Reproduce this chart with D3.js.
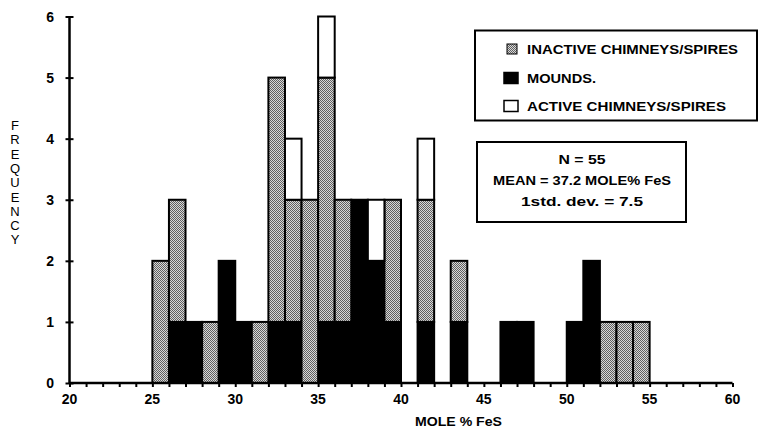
<!DOCTYPE html>
<html><head><meta charset="utf-8">
<script src="https://cdn.jsdelivr.net/npm/d3@7/dist/d3.min.js"></script>
<style>html,body{margin:0;padding:0;background:#fff;}svg{display:block;}</style>
</head><body>
<svg id="c" width="768" height="429"></svg>
<script>
// Data: histogram bins (lower edge, MOLE % FeS, 1-unit bins), stacked counts
const binStarts = [25,26,27,28,29,30,31,32,33,34,35,36,37,38,39,41,43,46,47,50,51,52,53,54];
const mounds    = [0, 1, 1, 0, 2, 1, 0, 1, 1, 0, 1, 1, 3, 2, 1, 1, 1, 1, 1, 1, 2, 0, 0, 0];
const inactive  = [2, 2, 0, 1, 0, 0, 1, 4, 2, 3, 4, 2, 0, 0, 2, 2, 1, 0, 0, 0, 0, 1, 1, 1];
const active    = [0, 0, 0, 0, 0, 0, 0, 0, 1, 0, 1, 0, 0, 1, 0, 1, 0, 0, 0, 0, 0, 0, 0, 0];
const seriesKeys = ["mounds","inactive","active"];
const legendLabels = ["INACTIVE CHIMNEYS/SPIRES","MOUNDS.","ACTIVE CHIMNEYS/SPIRES"];
const legendKeys = ["inactive","mounds","active"];
const xTickLabels = [20,25,30,35,40,45,50,55,60];
const yTickLabels = [0,1,2,3,4,5,6];
const statsLines = ["N = 55","MEAN = 37.2  MOLE% FeS","1std.  dev.  =  7.5"];
const yTitle = "FREQUENCY";
const xTitle = "MOLE % FeS";

const svg = d3.select("#c");
const font = "'Liberation Sans', Arial, Helvetica, sans-serif";

const x = d3.scaleLinear().domain([20,60]).range([69.5,732.5]);
const y = d3.scaleLinear().domain([0,6]).range([383,16.5]);

// pattern for stippled gray
const defs = svg.append("defs");
const pat = defs.append("pattern").attr("id","stip").attr("patternUnits","userSpaceOnUse")
  .attr("width",2).attr("height",2);
pat.append("rect").attr("width",2).attr("height",2).attr("fill","#d8d8d8");
pat.append("rect").attr("x",0).attr("y",0).attr("width",1).attr("height",1).attr("fill","#606060");
pat.append("rect").attr("x",1).attr("y",1).attr("width",1).attr("height",1).attr("fill","#606060");

const fills = {mounds:"#000", inactive:"url(#stip)", active:"#fff"};

const table = binStarts.map((b,i)=>({bin:b, mounds:mounds[i], inactive:inactive[i], active:active[i]}));
const stacked = d3.stack().keys(seriesKeys)(table);

const g = svg.append("g");
stacked.forEach(layer=>{
  g.selectAll(null).data(layer.filter(d=>d[1]>d[0])).enter().append("rect")
    .attr("x", d=>x(d.data.bin))
    .attr("width", d=>x(d.data.bin+1)-x(d.data.bin))
    .attr("y", d=>y(d[1]))
    .attr("height", d=>y(d[0])-y(d[1]))
    .attr("fill", fills[layer.key])
    .attr("stroke","#000").attr("stroke-width",2);
});

// axes
const xAxis = d3.axisBottom(x).tickValues(d3.range(20,61,1)).tickSize(4).tickFormat("");
const xa = svg.append("g").attr("transform",`translate(0,${y(0)})`).call(xAxis);
xa.select(".domain").attr("stroke","#000").attr("stroke-width",2.5).attr("d",`M${x(20)},0H${x(60)}`);
xa.selectAll(".tick line").attr("stroke","#000").attr("stroke-width",2);
svg.append("g").selectAll("text").data(xTickLabels).enter().append("text")
  .attr("x",d=>x(d)).attr("y",404).attr("text-anchor","middle")
  .attr("font-family",font).attr("font-weight","bold").attr("font-size",14).text(d=>d);

const yAxis = d3.axisLeft(y).tickValues(yTickLabels).tickSize(4).tickFormat("");
const ya = svg.append("g").attr("transform",`translate(${x(20)},0)`).call(yAxis);
ya.select(".domain").attr("stroke","#000").attr("stroke-width",2.5).attr("d",`M0,${y(0)}V${y(6)}`);
ya.selectAll(".tick line").attr("stroke","#000").attr("stroke-width",2).attr("x1",4);
svg.append("g").selectAll("text").data(yTickLabels).enter().append("text")
  .attr("x",54).attr("y",d=>y(d)+5).attr("text-anchor","end")
  .attr("font-family",font).attr("font-weight","bold").attr("font-size",14).text(d=>d);

// y title, stacked letters
svg.append("g").selectAll("text").data(yTitle.split("")).enter().append("text")
  .attr("x",15).attr("y",(d,i)=>130+i*14.3).attr("text-anchor","middle")
  .attr("font-family",font).attr("font-size",13).text(d=>d);

// x title
svg.append("text").attr("x",415).attr("y",426).attr("textLength",87).attr("lengthAdjust","spacingAndGlyphs")
  .attr("font-family",font).attr("font-weight","bold").attr("font-size",13).text(xTitle);

// legend
svg.append("rect").attr("x",475).attr("y",30.5).attr("width",282).attr("height",90)
  .attr("fill","#fff").attr("stroke","#000").attr("stroke-width",2);
const legRows = [49,78,106];
const legWidths = [211,69,199];
const swatch = [{x:507,w:10,h:10},{x:504,w:14,h:11},{x:504,w:14,h:11}];
legendKeys.forEach((k,i)=>{
  const s = swatch[i];
  svg.append("rect").attr("x",s.x).attr("y",legRows[i]-s.h/2).attr("width",s.w).attr("height",s.h)
    .attr("fill",fills[k]).attr("stroke","#000").attr("stroke-width",k==="inactive"?1:1.5);
  svg.append("text").attr("x",527).attr("y",legRows[i]+5)
    .attr("textLength",legWidths[i]).attr("lengthAdjust","spacingAndGlyphs")
    .attr("font-family",font).attr("font-weight","bold").attr("font-size",13.5).text(legendLabels[i]);
});

// stats box
svg.append("rect").attr("x",477).attr("y",142).attr("width",209).attr("height",80)
  .attr("fill","#fff").attr("stroke","#000").attr("stroke-width",2);
const statY = [164,185,206];
const statW = [47,178,122];
statsLines.forEach((t,i)=>{
  svg.append("text").attr("x",582).attr("y",statY[i]).attr("text-anchor","middle")
    .attr("textLength",statW[i]).attr("lengthAdjust","spacingAndGlyphs")
    .attr("font-family",font).attr("font-weight","bold").attr("font-size",13).text(t);
});
</script>
</body></html>
